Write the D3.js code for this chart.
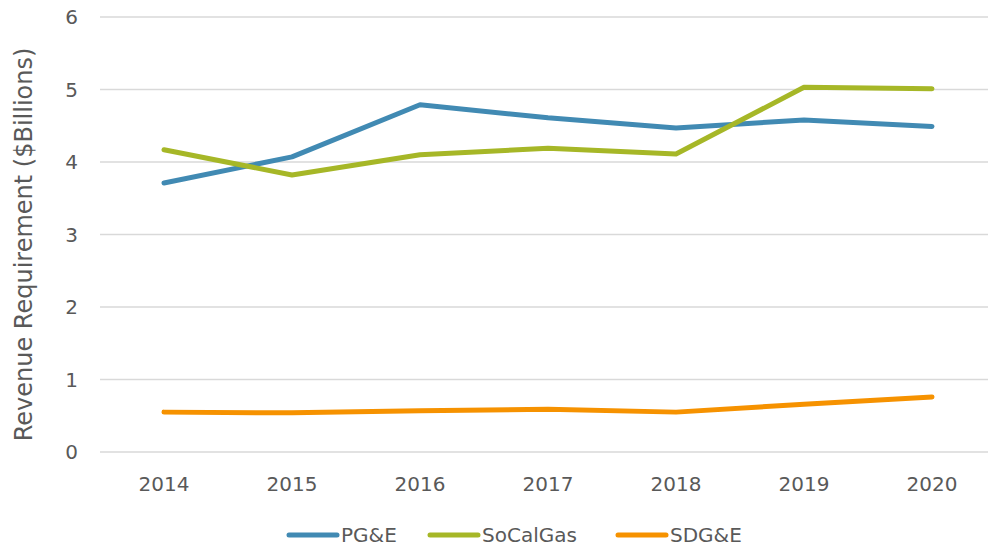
<!DOCTYPE html>
<html>
<head>
<meta charset="utf-8">
<script src="https://cdn.jsdelivr.net/npm/d3@7"></script>
<style>
  body { margin: 0; background: #fff; }
  text { font-family: "DejaVu Sans", sans-serif; fill: #595959; }
</style>
</head>
<body>
<div id="chart"></div>
<script>
"use strict";

var years = ["2014", "2015", "2016", "2017", "2018", "2019", "2020"];
var pge = [3.71, 4.07, 4.79, 4.61, 4.47, 4.58, 4.49];
var soCalGas = [4.17, 3.82, 4.10, 4.19, 4.11, 5.03, 5.01];
var sdge = [0.55, 0.54, 0.57, 0.59, 0.55, 0.66, 0.76];
var yTicks = [0, 1, 2, 3, 4, 5, 6];

var series = [
    { name: "PG&E", values: pge, color: "#418ab3" },
    { name: "SoCalGas", values: soCalGas, color: "#a6b727" },
    { name: "SDG&E", values: sdge, color: "#f69200" }
];

var width = 988, height = 548;
var margin = { top: 17, right: -8, bottom: 96, left: 100 };

var svg = d3.select("#chart").append("svg")
    .attr("width", width)
    .attr("height", height);

var x = d3.scalePoint()
    .domain(years)
    .range([margin.left, width - margin.right])
    .padding(0.5);
var y = d3.scaleLinear()
    .domain([0, 6])
    .range([height - margin.bottom, margin.top]);

// gridlines
svg.append("g")
    .selectAll("line")
    .data(yTicks)
    .enter().append("line")
    .attr("x1", margin.left)
    .attr("x2", width)
    .attr("y1", function (d) { return y(d); })
    .attr("y2", function (d) { return y(d); })
    .attr("stroke", "#d9d9d9")
    .attr("stroke-width", 1.5);

// y tick labels
svg.append("g")
    .selectAll("text")
    .data(yTicks)
    .enter().append("text")
    .attr("x", 78)
    .attr("y", function (d) { return y(d); })
    .attr("dy", "0.35em")
    .attr("text-anchor", "end")
    .style("font-size", "20px")
    .text(function (d) { return d; });

// x tick labels
svg.append("g")
    .selectAll("text")
    .data(years)
    .enter().append("text")
    .attr("x", function (d) { return x(d); })
    .attr("y", 491)
    .attr("text-anchor", "middle")
    .style("font-size", "20px")
    .text(function (d) { return d; });

// axis title
svg.append("text")
    .attr("transform", "translate(32," + ((y(0) + y(6)) / 2 + 10) + ") rotate(-90)")
    .attr("text-anchor", "middle")
    .style("font-size", "24px")
    .text("Revenue Requirement ($Billions)");

var line = d3.line()
    .x(function (d, i) { return x(years[i]); })
    .y(function (d) { return y(d); });

svg.append("g")
    .selectAll("path")
    .data(series)
    .enter().append("path")
    .attr("d", function (d) { return line(d.values); })
    .attr("fill", "none")
    .attr("stroke", function (d) { return d.color; })
    .attr("stroke-width", 5)
    .attr("stroke-linecap", "round")
    .attr("stroke-linejoin", "round");

// legend
var legendX = [289, 430, 618];
var legend = svg.append("g")
    .selectAll("g")
    .data(series)
    .enter().append("g")
    .attr("transform", function (d, i) { return "translate(" + legendX[i] + ",535)"; });
legend.append("line")
    .attr("x1", 0)
    .attr("x2", 48)
    .attr("stroke", function (d) { return d.color; })
    .attr("stroke-width", 5)
    .attr("stroke-linecap", "round");
legend.append("text")
    .attr("x", 52)
    .attr("dy", "0.35em")
    .style("font-size", "20px")
    .text(function (d) { return d.name; });
</script>
</body>
</html>
